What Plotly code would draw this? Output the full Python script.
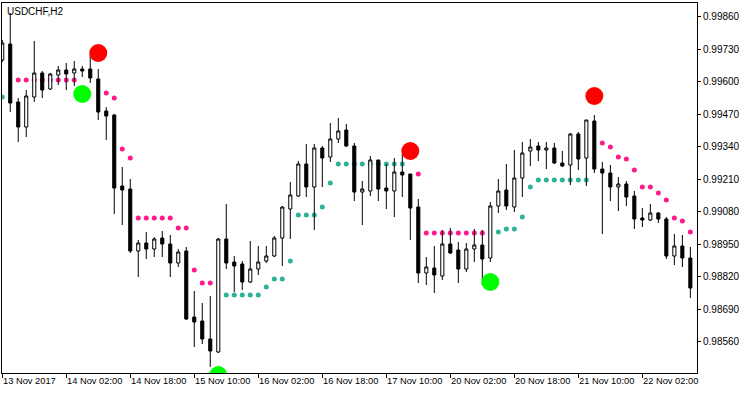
import plotly.graph_objects as go

# ---------------- data (USDCHF, H2) ----------------
opens = [0.99687, 0.99751, 0.99519, 0.99419, 0.99539, 0.99635, 0.99571, 0.99627, 0.99647, 0.99635,
         0.99651, 0.99651, 0.99611, 0.99483, 0.99467, 0.99183, 0.99171, 0.98923, 0.98955, 0.98931,
         0.98975, 0.98951, 0.98875, 0.98923, 0.98659, 0.98643, 0.98571, 0.98519, 0.98971, 0.98879,
         0.98871, 0.98799, 0.98851, 0.98883, 0.98903, 0.98975, 0.99091, 0.99143, 0.99271, 0.99179,
         0.99335, 0.99299, 0.99371, 0.99407, 0.99343, 0.99159, 0.99163, 0.99287, 0.99175, 0.99163,
         0.99239, 0.99231, 0.99099, 0.98835, 0.98855, 0.98823, 0.98951, 0.98927, 0.98851, 0.98931,
         0.98947, 0.98895, 0.99103, 0.99167, 0.99099, 0.99215, 0.99323, 0.99343, 0.99327, 0.99335,
         0.99275, 0.99267, 0.99391, 0.99295, 0.99443, 0.99251, 0.99235, 0.99179, 0.99191, 0.99143,
         0.99055, 0.99047, 0.99075, 0.99051, 0.98903, 0.98943, 0.98895]
highs = [0.99767, 0.99875, 0.99535, 0.99567, 0.99763, 0.99643, 0.99635, 0.99663, 0.99675, 0.99683,
         0.99663, 0.99707, 0.99651, 0.99499, 0.99471, 0.99259, 0.99211, 0.98967, 0.98999, 0.98979,
         0.99003, 0.98987, 0.98931, 0.98939, 0.98763, 0.98715, 0.98743, 0.98975, 0.99111, 0.98903,
         0.98883, 0.98963, 0.98943, 0.98943, 0.98983, 0.99103, 0.99199, 0.99283, 0.99351, 0.99351,
         0.99343, 0.99435, 0.99455, 0.99431, 0.99355, 0.99203, 0.99303, 0.99287, 0.99271, 0.99295,
         0.99311, 0.99231, 0.99131, 0.98899, 0.98943, 0.99007, 0.99015, 0.98959, 0.98955, 0.99011,
         0.99007, 0.99119, 0.99211, 0.99271, 0.99327, 0.99359, 0.99371, 0.99359, 0.99359, 0.99355,
         0.99323, 0.99395, 0.99399, 0.99447, 0.99467, 0.99279, 0.99267, 0.99219, 0.99203, 0.99163,
         0.99095, 0.99111, 0.99079, 0.99059, 0.98991, 0.98987, 0.98939]
lows = [0.99679, 0.99479, 0.99359, 0.99379, 0.99519, 0.99535, 0.99567, 0.99587, 0.99567, 0.99583,
        0.99619, 0.99595, 0.99447, 0.99367, 0.99071, 0.99027, 0.98915, 0.98819, 0.98891, 0.98899,
        0.98899, 0.98819, 0.98859, 0.98647, 0.98539, 0.98551, 0.98459, 0.98515, 0.98851, 0.98759,
        0.98767, 0.98795, 0.98827, 0.98875, 0.98899, 0.98863, 0.98971, 0.99139, 0.99139, 0.99007,
        0.99179, 0.99279, 0.99355, 0.99339, 0.99123, 0.99027, 0.99143, 0.99123, 0.99091, 0.99059,
        0.99139, 0.98967, 0.98795, 0.98787, 0.98755, 0.98807, 0.98911, 0.98795, 0.98839, 0.98879,
        0.98787, 0.98879, 0.99075, 0.99087, 0.99079, 0.99139, 0.99263, 0.99283, 0.99251, 0.99271,
        0.99259, 0.99187, 0.99247, 0.99183, 0.99235, 0.98991, 0.99123, 0.99083, 0.99103, 0.99011,
        0.99019, 0.99043, 0.99035, 0.98891, 0.98867, 0.98859, 0.98735]
closes = [0.99755, 0.99515, 0.99419, 0.99543, 0.99635, 0.99567, 0.99631, 0.99647, 0.99631, 0.99651,
          0.99643, 0.99615, 0.99479, 0.99463, 0.99175, 0.99167, 0.98923, 0.98955, 0.98931, 0.98971,
          0.98951, 0.98875, 0.98919, 0.98651, 0.98639, 0.98571, 0.98523, 0.98971, 0.98875, 0.98863,
          0.98799, 0.98851, 0.98879, 0.98903, 0.98975, 0.99099, 0.99147, 0.99271, 0.99179, 0.99335,
          0.99295, 0.99371, 0.99403, 0.99343, 0.99159, 0.99171, 0.99287, 0.99171, 0.99163, 0.99239,
          0.99227, 0.99095, 0.98835, 0.98859, 0.98827, 0.98951, 0.98915, 0.98851, 0.98931, 0.98947,
          0.98891, 0.99103, 0.99163, 0.99103, 0.99215, 0.99315, 0.99339, 0.99327, 0.99335, 0.99275,
          0.99263, 0.99391, 0.99291, 0.99447, 0.99251, 0.99235, 0.99179, 0.99191, 0.99139, 0.99051,
          0.99047, 0.99075, 0.99051, 0.98903, 0.98943, 0.98895, 0.98775]

N = None
support = ([0.99539] + [N] * 27 + [0.98747] * 5 + [0.98779, 0.98811, 0.98811, 0.98883]
           + [0.99067] * 3 + [0.99099, 0.99195] + [0.99271] * 9 + [N] * 11
           + [0.98999, 0.99011, 0.99011, 0.99059, 0.99179] + [0.99207] * 7 + [N] * 13)
resistance = ([N, N] + [0.99607] * 8 + [N] * 3 + [0.99555, 0.99535, 0.99331, 0.99295]
              + [0.99055] * 5 + [0.99015] * 2 + [0.98847, 0.98795, 0.98795] + [N] * 25
              + [0.99231] + [0.98995] * 8 + [N] * 14
              + [0.99355, 0.99339, 0.99299, 0.99291, 0.99247, 0.99179, 0.99179, 0.99155,
                 0.99127, 0.99055, 0.99043, 0.98999])

buy_idx = [10, 27, 61]
buy_val = [0.99551, 0.98427, 0.98799]
sell_idx = [12, 51, 74]
sell_val = [0.99715, 0.99323, 0.99543]

tick_idx = [0, 8, 16, 24, 32, 40, 48, 56, 64, 72, 80]
tick_labels = ["13 Nov 2017", "14 Nov 02:00", "14 Nov 18:00", "15 Nov 10:00", "16 Nov 02:00",
               "16 Nov 18:00", "17 Nov 10:00", "20 Nov 02:00", "20 Nov 18:00", "21 Nov 10:00",
               "22 Nov 02:00"]
price_ticks = [0.98560, 0.98690, 0.98820, 0.98950, 0.99080, 0.99210, 0.99340, 0.99470,
               0.99600, 0.99730, 0.99860]

idx = list(range(len(opens)))
FONT = "Liberation Sans, Arial, sans-serif"
XR = [-0.03, 86.83]
YR = [0.98435, 0.99915]

fig = go.Figure()

# indicator dots (base layer, behind candles)
fig.add_trace(go.Scatter(x=idx, y=support, mode="markers",
                         marker=dict(size=5, color="#2eb39a"), hoverinfo="skip"))
fig.add_trace(go.Scatter(x=idx, y=resistance, mode="markers",
                         marker=dict(size=5, color="#ff1a8c"), hoverinfo="skip"))

# candles on overlay axes (drawn above the dots)
fig.add_trace(go.Candlestick(
    x=idx, open=opens, high=highs, low=lows, close=closes,
    increasing=dict(line=dict(color="black", width=1), fillcolor="white"),
    decreasing=dict(line=dict(color="black", width=1), fillcolor="black"),
    whiskerwidth=0, xaxis="x2", yaxis="y2", hoverinfo="skip"))

# signal circles
fig.add_trace(go.Scatter(x=buy_idx, y=buy_val, mode="markers", xaxis="x2", yaxis="y2",
                         marker=dict(size=18, color="#00ff00"), hoverinfo="skip"))
fig.add_trace(go.Scatter(x=sell_idx, y=sell_val, mode="markers", xaxis="x2", yaxis="y2",
                         marker=dict(size=18, color="#ff0000"), hoverinfo="skip"))

annotations = [dict(x=i, y=0, xref="x", yref="paper", text=t, showarrow=False,
                    xanchor="left", yanchor="top", xshift=-1, yshift=-1,
                    font=dict(family=FONT, size=9.3, color="black"))
               for i, t in zip(tick_idx, tick_labels)]
annotations.append(dict(x=0, y=1, xref="paper", yref="paper", text="USDCHF,H2",
                        showarrow=False, xanchor="left", yanchor="top", xshift=3, yshift=-1,
                        font=dict(family=FONT, size=10, color="black")))

fig.update_layout(
    width=750, height=394,
    margin=dict(l=2, r=53, t=3, b=21),
    paper_bgcolor="white", plot_bgcolor="white",
    showlegend=False, boxgap=0.45,
    xaxis=dict(range=XR, showgrid=False, zeroline=False, showline=True, mirror=True,
               linecolor="black", linewidth=1, ticks="outside", ticklen=4, tickcolor="black",
               tickvals=tick_idx, showticklabels=False, fixedrange=True),
    yaxis=dict(range=YR, side="right", showgrid=False, zeroline=False, showline=True,
               mirror=True, linecolor="black", linewidth=1, ticks="outside", ticklen=3,
               tickcolor="black", tickvals=price_ticks, tickformat=".5f",
               tickfont=dict(family=FONT, size=10, color="black")),
    xaxis2=dict(range=XR, overlaying="x", visible=False, rangeslider=dict(visible=False)),
    yaxis2=dict(range=YR, overlaying="y", visible=False),
    annotations=annotations,
)
fig.update_xaxes(rangeslider_visible=False)

fig.write_html("out.html")
